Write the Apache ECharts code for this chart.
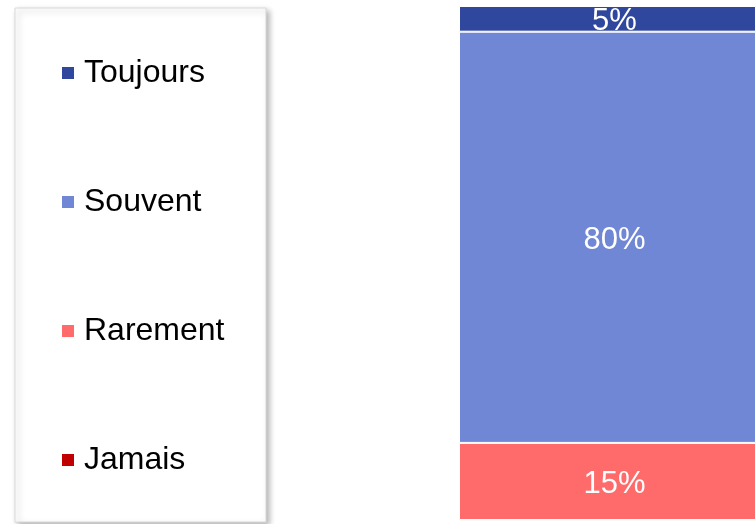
<!DOCTYPE html>
<html>
<head>
<meta charset="utf-8">
<script src="https://cdn.jsdelivr.net/npm/echarts@6/dist/echarts.min.js"></script>
<style>
  html, body { margin: 0; padding: 0; background: #fff; }
  #chart { width: 756px; height: 524px; }
</style>
</head>
<body>
<div id="chart"></div>
<script>
// one stacked column, 100% total
const categories = ['Réponses'];
const seriesNames = ['Jamais', 'Rarement', 'Souvent', 'Toujours'];
const jamais = [0];
const rarement = [15];
const souvent = [80];
const toujours = [5];
const colors = {
  Jamais: '#C00000',
  Rarement: '#FF6B6B',
  Souvent: '#7087D5',
  Toujours: '#2F479C'
};
const values = { Jamais: jamais, Rarement: rarement, Souvent: souvent, Toujours: toujours };

let chart = echarts.init(document.getElementById('chart'), null, { renderer: 'canvas' });

const series = seriesNames.map(name => ({
  name: name,
  type: 'bar',
  stack: 'total',
  barWidth: '100%',
  data: values[name],
  itemStyle: { color: colors[name], borderColor: '#fff', borderWidth: 1 },
  label: {
    show: true,
    position: 'inside',
    // the column runs past the right edge, so its centre sits a bit right of the visible middle
    offset: [7, 3],
    color: '#fff',
    fontSize: 31,
    fontFamily: 'Liberation Sans, Arial, sans-serif',
    formatter: p => (p.value ? p.value + '%' : '')
  }
}));

const option = {
  animation: false,
  graphic: [{
    type: 'rect',
    z: 0,
    shape: { x: 15, y: 8, width: 251, height: 514 },
    style: {
      fill: '#fff',
      stroke: '#d9d9d9',
      lineWidth: 1,
      shadowBlur: 6,
      shadowOffsetX: 3,
      shadowOffsetY: 3,
      shadowColor: 'rgba(0,0,0,0.3)'
    }
  }],
  legend: {
    orient: 'vertical',
    left: 55,
    top: 50,
    z: 5,
    data: ['Toujours', 'Souvent', 'Rarement', 'Jamais'],
    icon: 'rect',
    itemWidth: 14,
    itemHeight: 14,
    itemGap: 93,
    textStyle: {
      fontSize: 32,
      lineHeight: 36,
      color: '#000',
      fontFamily: 'Liberation Sans, Arial, sans-serif',
      padding: [0, 0, 0, 4]
    }
  },
  grid: { left: 459, top: 6, bottom: 4, right: 0, containLabel: false },
  xAxis: {
    type: 'category',
    data: categories,
    show: false
  },
  yAxis: {
    type: 'value',
    min: 0,
    max: 100,
    show: false
  },
  series: series
};

chart.setOption(option);
</script>
</body>
</html>
